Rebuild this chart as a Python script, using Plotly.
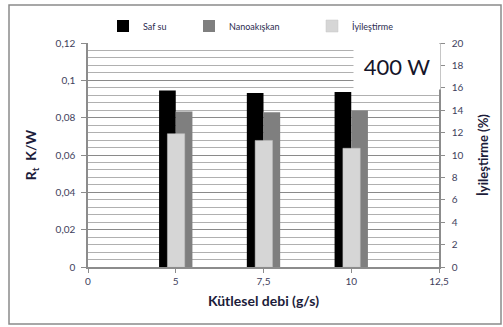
import plotly.graph_objects as go

# Mass flow rate categories (g/s) shown on the x axis
flow_axis = ["0", "5", "7,5", "10", "12,5"]
flow = ["5", "7,5", "10"]

# Thermal resistance (K/W)
saf_su = [0.0946, 0.0932, 0.0938]
nanoakiskan = [0.0833, 0.0829, 0.0838]
# Improvement (%)
iyilestirme = [11.9, 11.3, 10.6]

FONT = "Lato"
TICK_COLOR = "#3e3e5c"
TITLE_COLOR = "#1c1c3a"
AXIS_GRAY = "#8c8c8c"

fig = go.Figure()
fig.add_trace(go.Bar(
    x=flow, y=saf_su, name="Saf su", legend="legend",
    marker=dict(color="#000000", line=dict(width=0)),
    width=0.19, offset=-0.19,
))
fig.add_trace(go.Bar(
    x=flow, y=nanoakiskan, name="Nanoakışkan", legend="legend2",
    marker=dict(color="#7f7f7f", line=dict(width=0)),
    width=0.19, offset=0.0,
))
fig.add_trace(go.Bar(
    x=flow, y=iyilestirme, name="İyileştirme", yaxis="y2", legend="legend3",
    marker=dict(color="#d6d6d6", line=dict(color="#c4c4c4", width=0.5)),
    width=0.197, offset=-0.095,
))

# plot area in pixels: left 88, right 439, top 43, bottom 267
L, R, T, B = 88, 439, 43, 267
W, H = R - L, B - T


def px(x):
    return (x - L) / W


def py(y):
    return (B - y) / H


def legend_at(x_pix):
    return dict(
        orientation="h", x=px(x_pix), y=py(26), yanchor="middle", xanchor="left",
        font=dict(size=9, color="#2b2b50", family=FONT),
        bgcolor="rgba(0,0,0,0)", itemwidth=30,
    )


fig.update_layout(
    width=503, height=327,
    margin=dict(l=L, r=503 - R, t=T, b=327 - B),
    paper_bgcolor="white", plot_bgcolor="white",
    separators=",.",
    barmode="overlay",
    font=dict(family=FONT, color=TICK_COLOR, size=10),
    xaxis=dict(
        type="category", categoryorder="array", categoryarray=flow_axis,
        range=[0, 4], showgrid=False,
        showline=True, linecolor=AXIS_GRAY, linewidth=1.5,
        ticks="outside", ticklen=4, tickcolor=AXIS_GRAY, tickwidth=1,
        tickfont=dict(size=10, color=TICK_COLOR),
        title=dict(text="Kütlesel debi (g/s)", standoff=10,
                   font=dict(size=14, color=TITLE_COLOR, family=FONT, weight="bold")),
    ),
    yaxis=dict(
        range=[0, 0.12], dtick=0.02,
        showgrid=True, gridcolor="#8a8a8a", gridwidth=1.3,
        minor=dict(dtick=0.004, showgrid=True, gridcolor="#b0b0b0", gridwidth=1),
        showline=True, linecolor=AXIS_GRAY, linewidth=1.5,
        ticks="outside", ticklen=5, tickcolor=AXIS_GRAY,
        ticklabelstandoff=4,
        tickfont=dict(size=10, color=TICK_COLOR),
        zeroline=False,
        title=dict(text="R<sub>t</sub>  K/W", standoff=16,
                   font=dict(size=14, color=TITLE_COLOR, family=FONT, weight="bold")),
    ),
    yaxis2=dict(
        overlaying="y", side="right", range=[0, 20], dtick=2,
        showgrid=False, zeroline=False,
        showline=True, linecolor=AXIS_GRAY, linewidth=1.5,
        ticks="outside", ticklen=4, tickcolor=AXIS_GRAY,
        ticklabelstandoff=5,
        tickfont=dict(size=10, color=TICK_COLOR),
        title=dict(text="İyileştirme (%)", standoff=16,
                   font=dict(size=13, color=TITLE_COLOR, family=FONT, weight="bold")),
    ),
    legend=legend_at(103),
    legend2=legend_at(189),
    legend3=legend_at(312),
    showlegend=True,
)

# "400 W" label on a white panel in the upper right of the plot
fig.add_annotation(
    xref="paper", yref="paper", x=px(396.5), y=py(66.5),
    text="400 W", showarrow=False,
    font=dict(size=22, color="#15152a", family=FONT),
    bgcolor="white", width=86, height=45, borderpad=0,
    xanchor="center", yanchor="middle", valign="middle",
)

# outer chart frame
fig.add_shape(
    type="rect", xref="paper", yref="paper",
    x0=px(9), x1=px(501), y0=py(324), y1=py(5),
    line=dict(color="#8a8a8a", width=1.5), fillcolor="rgba(0,0,0,0)",
    layer="below",
)

fig.write_html("out.html")
